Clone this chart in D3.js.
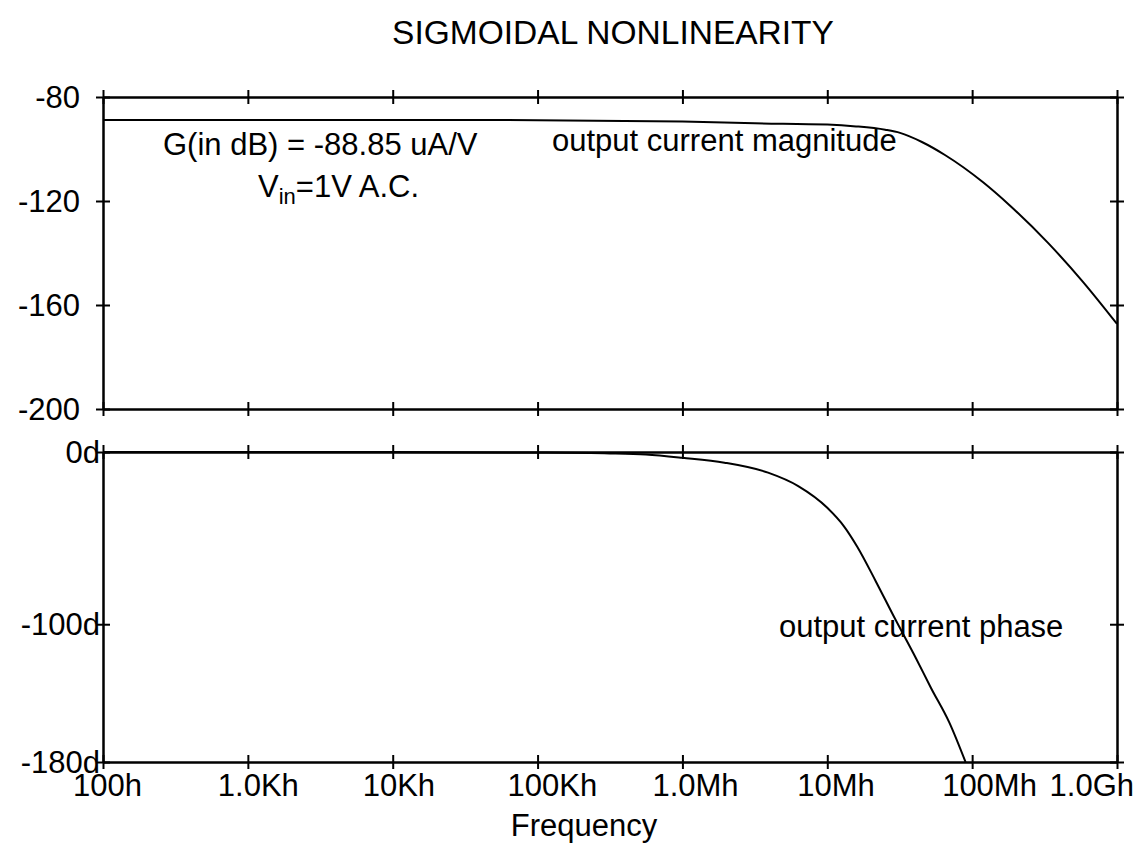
<!DOCTYPE html>
<html>
<head>
<meta charset="utf-8">
<script src="https://cdn.jsdelivr.net/npm/d3@7"></script>
<style>
  html, body { margin: 0; padding: 0; background: #fff; }
  svg text { font-family: "Liberation Sans", Arial, Helvetica, sans-serif; fill: #000; }
</style>
</head>
<body>
<svg id="chart" width="1138" height="846"></svg>
<script>
// ---- data ----
const title = "SIGMOIDAL NONLINEARITY";
const xTicks = [1e2, 1e3, 1e4, 1e5, 1e6, 1e7, 1e8, 1e9];
const xTickLabels = ["100h", "1.0Kh", "10Kh", "100Kh", "1.0Mh", "10Mh", "100Mh", "1.0Gh"];
const magTicks = [-80, -120, -160, -200];
const magTickLabels = ["-80", "-120", "-160", "-200"];
const phTicks = [0, -100, -180];
const phTickLabels = ["0d", "-100d", "-180d"];

const magFreq = [1e2, 1e3, 1e4, 1e5, 1e6, 3.16e6, 1e7, 1.58e7, 2.51e7, 3.18e7, 4.5e7, 6.49e7, 1.19e8, 1.82e8, 3.34e8, 5.82e8, 1e9];
const magValues = [-88.85, -88.85, -88.85, -88.9, -89.4, -90.1, -90.6, -91.3, -92.6, -93.8, -97.3, -102.3, -112.8, -121.7, -136.1, -151.1, -167.3];

const phFreq = [1e2, 1e3, 1e4, 1e5, 3.16e5, 5.6e5, 1e6, 1.95e6, 3.9e6, 6.3e6, 1e7, 1.3e7, 1.61e7, 2.16e7, 2.9e7, 4.11e7, 5.2e7, 6.95e7, 9.0e7];
const phValues = [0, 0, 0, -0.3, -0.8, -1.5, -3.4, -6.2, -12, -19.8, -32.4, -43, -55, -75, -96, -120, -137, -157, -180];

// ---- layout ----
const X0 = 103, X1 = 1117;
const magTop = 97, magBot = 409;
const phTop = 452, phBot = 762;
const FS = 31;

const svg = d3.select("#chart");
const x = d3.scaleLog().domain([1e2, 1e9]).range([X0, X1]);
const yMag = d3.scaleLinear().domain([-200, -80]).range([magBot, magTop]);
const yPh = d3.scaleLinear().domain([-180, 0]).range([phBot, phTop]);

function crossAxis(g, axisA, axisB) {
  g.append("g").call(axisA);
  g.append("g").call(axisB);
  g.selectAll("path.domain").attr("stroke", "#000").attr("stroke-width", 2);
  g.selectAll(".tick line").attr("stroke", "#000").attr("stroke-width", 2);
  g.selectAll(".tick text").remove();
}

function panel(yScale, top, bot, yTicks, rightTicks) {
  const g = svg.append("g");
  [top, bot].forEach(yy => {
    const gg = g.append("g").attr("transform", `translate(0,${yy})`);
    crossAxis(gg,
      d3.axisBottom(x).tickValues(xTicks).tickSize(7).tickSizeOuter(0).tickFormat(""),
      d3.axisTop(x).tickValues(xTicks).tickSize(7).tickSizeOuter(0).tickFormat(""));
  });
  const gl = g.append("g").attr("transform", `translate(${X0},0)`);
  crossAxis(gl,
    d3.axisLeft(yScale).tickValues(yTicks).tickSize(7).tickSizeOuter(0).tickFormat(""),
    d3.axisRight(yScale).tickValues(yTicks).tickSize(7).tickSizeOuter(0).tickFormat(""));
  const gr = g.append("g").attr("transform", `translate(${X1},0)`);
  crossAxis(gr,
    d3.axisLeft(yScale).tickValues(rightTicks).tickSize(7).tickSizeOuter(0).tickFormat(""),
    d3.axisRight(yScale).tickValues(rightTicks).tickSize(7).tickSizeOuter(0).tickFormat(""));
  return g;
}

panel(yMag, magTop, magBot, magTicks, magTicks);
panel(yPh, phTop, phBot, phTicks, phTicks);

// curves
const lineMag = d3.line().x((d, i) => x(magFreq[i])).y(d => yMag(d)).curve(d3.curveMonotoneX);
svg.append("path").attr("d", lineMag(magValues))
  .attr("fill", "none").attr("stroke", "#000").attr("stroke-width", 2);
const linePh = d3.line().x((d, i) => x(phFreq[i])).y(d => yPh(d)).curve(d3.curveMonotoneX);
svg.append("path").attr("d", linePh(phValues))
  .attr("fill", "none").attr("stroke", "#000").attr("stroke-width", 2);

// title
svg.append("text").attr("x", 613).attr("y", 44).attr("text-anchor", "middle")
  .attr("font-size", 33.5).text(title);

// y labels
magTicks.forEach((t, i) => {
  svg.append("text").attr("x", 80).attr("y", yMag(t) + 11).attr("text-anchor", "end")
    .attr("font-size", FS).text(magTickLabels[i]);
});
phTicks.forEach((t, i) => {
  svg.append("text").attr("x", 100).attr("y", yPh(t) + 11).attr("text-anchor", "end")
    .attr("font-size", FS).text(phTickLabels[i]);
});

// x labels
xTicks.forEach((t, i) => {
  const last = i === xTicks.length - 1;
  svg.append("text")
    .attr("x", last ? 1134 : x(t) - 30)
    .attr("y", 796)
    .attr("text-anchor", last ? "end" : "start")
    .attr("font-size", FS).text(xTickLabels[i]);
});

svg.append("text").attr("x", 584).attr("y", 836).attr("text-anchor", "middle")
  .attr("font-size", FS).text("Frequency");

// annotations
svg.append("text").attr("x", 163).attr("y", 155).attr("font-size", FS)
  .text("G(in dB) = -88.85 uA/V");
const vt = svg.append("text").attr("x", 258).attr("y", 197).attr("font-size", FS);
vt.append("tspan").text("V");
vt.append("tspan").attr("dy", 7).attr("font-size", 22).text("in");
vt.append("tspan").attr("dy", -7).text("=1V A.C.");

svg.append("text").attr("x", 552).attr("y", 151).attr("font-size", FS)
  .text("output current magnitude");
svg.append("text").attr("x", 779).attr("y", 637).attr("font-size", FS)
  .text("output current phase");
</script>
</body>
</html>
